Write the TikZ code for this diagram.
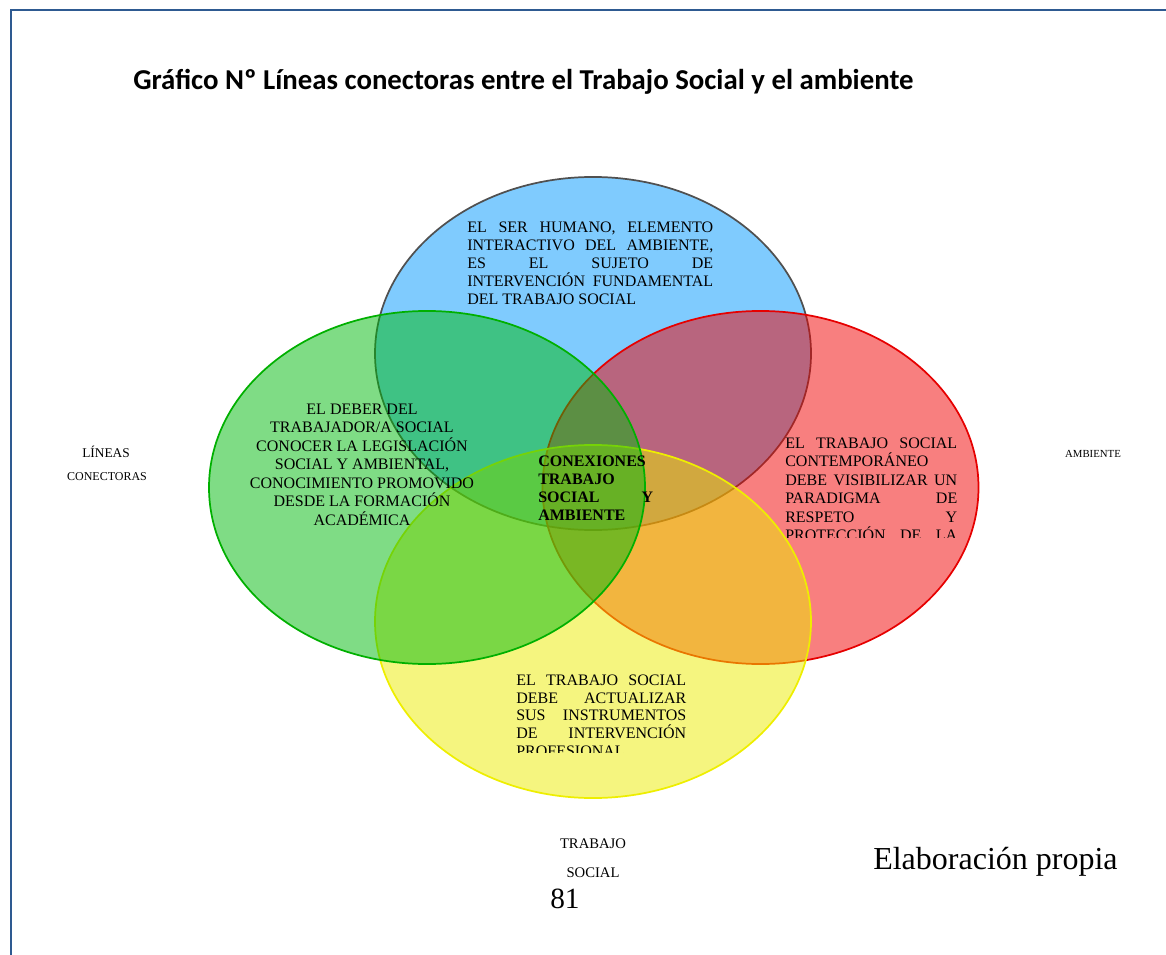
\documentclass[tikz,border=0pt]{standalone}
\usepackage{fontspec}
\setmainfont{Liberation Serif}
\newfontfamily\titlefont{Carlito}
\definecolor{framecol}{RGB}{46,90,145}
\definecolor{bluefill}{RGB}{0,152,254}
\definecolor{bluedraw}{RGB}{80,80,80}
\definecolor{redfill}{RGB}{242,0,0}
\definecolor{reddraw}{RGB}{230,0,0}
\definecolor{yelfill}{RGB}{236,236,0}
\definecolor{yeldraw}{RGB}{238,238,0}
\definecolor{grnfill}{RGB}{0,186,12}
\definecolor{grndraw}{RGB}{0,176,0}
\newcommand{\jline}[6]{\node[bodytext,#6] (#1) at (#2,#3) {\makebox[#4][s]{#5}};}
\newcommand{\lline}[5]{\node[bodytext,#5] (#1) at (#2,#3) {#4};}
\tikzset{
  bodytext/.style={inner sep=0pt, anchor=base west, font=\fontsize{12}{14}\selectfont},
  ctext/.style={inner sep=0pt, anchor=base, font=\fontsize{12}{14}\selectfont},
  venn/.style={line width=1.3pt, fill opacity=0.5},
  sidelabel/.style={inner sep=0pt, anchor=base}
}
\begin{document}
\begin{tikzpicture}[x=0.75pt,y=-0.75pt]
\useasboundingbox (0,0) rectangle (1166,955);
% frame
\coordinate (fbl) at (11,956);
\coordinate (ftl) at (11,10);
\coordinate (ftr) at (1167,10);
\draw[framecol, line width=1.9pt] (fbl) -- (ftl) -- (ftr);
% title
\node[inner sep=0pt, anchor=base west, font=\titlefont\bfseries\fontsize{21.6}{25}\selectfont] (title) at (133,90) {Gráfico Nº Líneas conectoras entre el Trabajo Social y el ambiente};
% ellipses: blue, red, yellow, green
\path[venn, draw=bluedraw, fill=bluefill] (593,353.5) ellipse [x radius=163.5pt, y radius=132.4pt];
\path[venn, draw=reddraw, fill=redfill] (760.5,487.5) ellipse [x radius=163.5pt, y radius=132.4pt];
\path[venn, draw=yeldraw, fill=yelfill] (593,621.5) ellipse [x radius=163.5pt, y radius=132.4pt];
\path[venn, draw=grndraw, fill=grnfill] (427,487.5) ellipse [x radius=163.5pt, y radius=132.4pt];
% top text
\jline{t1}{467}{233}{184.5pt}{EL SER HUMANO, ELEMENTO}{}
\jline{t2}{467}{251}{184.5pt}{INTERACTIVO DEL AMBIENTE,}{}
\jline{t3}{467}{269}{184.5pt}{ES EL SUJETO DE}{}
\jline{t4}{467}{287}{184.5pt}{INTERVENCIÓN FUNDAMENTAL}{}
\lline{t5}{467}{305}{DEL TRABAJO SOCIAL}{}
% left text
\node[ctext] (l1) at (362,414) {EL DEBER DEL};
\node[ctext] (l2) at (362,432.5) {TRABAJADOR/A SOCIAL};
\node[ctext] (l3) at (362,451) {CONOCER LA LEGISLACIÓN};
\node[ctext] (l4) at (362,469.5) {SOCIAL Y AMBIENTAL,};
\node[ctext] (l5) at (362,488) {CONOCIMIENTO PROMOVIDO};
\node[ctext] (l6) at (362,506.5) {DESDE LA FORMACIÓN};
\node[ctext] (l7) at (362,525) {ACADÉMICA};
% right text (clipped)
\begin{scope}
\clip (778,425) rectangle (966,537);
\jline{r1}{785}{448}{129pt}{EL TRABAJO SOCIAL}{}
\lline{r2}{785}{466.5}{CONTEMPORÁNEO}{}
\jline{r3}{785}{485}{129pt}{DEBE VISIBILIZAR UN}{}
\jline{r4}{785}{503.5}{129pt}{PARADIGMA DE}{}
\jline{r5}{785}{522}{129pt}{RESPETO Y}{}
\jline{r6}{785}{540.5}{129pt}{PROTECCIÓN DE LA}{}
\end{scope}
% bottom text (clipped)
\begin{scope}
\clip (495,665) rectangle (700,752);
\jline{b1}{516}{685}{127.5pt}{EL TRABAJO SOCIAL}{}
\jline{b2}{516}{703}{127.5pt}{DEBE ACTUALIZAR}{}
\jline{b3}{516}{720.5}{127.5pt}{SUS INSTRUMENTOS}{}
\jline{b4}{516}{738.25}{127.5pt}{DE INTERVENCIÓN}{}
\lline{b5}{516}{756}{PROFESIONAL}{}
\end{scope}
% center text
\lline{c1}{538}{466}{CONEXIONES}{font=\bfseries\fontsize{12}{14}\selectfont}
\lline{c2}{538}{484}{TRABAJO}{font=\bfseries\fontsize{12}{14}\selectfont}
\jline{c3}{538}{502}{86.25pt}{SOCIAL Y}{font=\bfseries\fontsize{12}{14}\selectfont}
\lline{c4}{538}{520}{AMBIENTE}{font=\bfseries\fontsize{12}{14}\selectfont}
% side labels
\node[sidelabel, font=\fontsize{10}{12}\selectfont] (lineas) at (106,457) {LÍNEAS};
\node[sidelabel, font=\fontsize{9}{11}\selectfont] (conectoras) at (107,480) {CONECTORAS};
\node[sidelabel, font=\fontsize{8.1}{10}\selectfont] (ambiente) at (1093,457) {AMBIENTE};
\node[sidelabel, font=\fontsize{11}{13}\selectfont] (trabajo) at (593,848) {TRABAJO};
\node[sidelabel, font=\fontsize{11}{13}\selectfont] (social) at (593,877) {SOCIAL};
\node[inner sep=0pt, anchor=base west, font=\fontsize{22}{26}\selectfont] (pagenum) at (550,908) {81};
\node[inner sep=0pt, anchor=base west, font=\fontsize{24}{28}\selectfont] (elab) at (873,869) {Elaboración propia};
\end{tikzpicture}
\end{document}
